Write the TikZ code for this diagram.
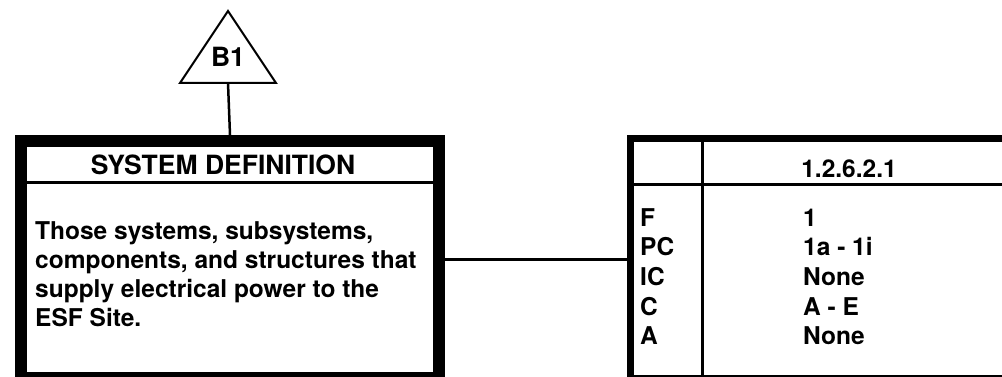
\documentclass[tikz,border=0pt]{standalone}
\usepackage{fontspec}
\setmainfont{TeX Gyre Heros}
\usetikzlibrary{positioning}

\tikzset{
  heavy/.style={line width=12pt},
  txt/.style={inner sep=0pt, font=\fontsize{24.5}{29}\selectfont\bfseries},
  big/.style={inner sep=0pt, font=\fontsize{26.5}{30}\selectfont\bfseries},
}

\begin{document}
\begin{tikzpicture}[x=1pt,y=-1pt]
\useasboundingbox (0,0) rectangle (1002,377);
% tag triangle
\coordinate (apex) at (228,11);
\coordinate (bl) at (180,83);
\coordinate (br) at (276,83);
\coordinate (tagfoot) at (228,83);
\draw[line width=2pt, line join=miter] (apex) -- (br) -- (bl) -- cycle;
\node[big] (tag) at (228,57) {B1};
% system definition box
\node[draw, heavy, inner sep=0pt, minimum width=418pt, minimum height=237pt, anchor=north west] (sysdef) at (15,135) {};
\draw[line width=2.5pt] (tagfoot) -- (sysdef.north);
\draw[line width=3pt] ([xshift=6pt,yshift=-48pt]sysdef.north west) coordinate (hl) -- ([xshift=-6pt,yshift=-48pt]sysdef.north east) coordinate (hr);
\node[big, anchor=base] (head) at (223,175) {SYSTEM DEFINITION};
\node[txt, anchor=north west, align=left] (body) at (35,221) {Those systems, subsystems,\\components, and structures that\\supply electrical power to the\\ESF Site.};
% reference table
\node[draw, line width=2pt, inner sep=0pt, minimum width=382pt, minimum height=239pt, anchor=north west] (ref) at (628,136) {};
\draw[line width=7pt] ([xshift=2.5pt]ref.south west) -- ([xshift=2.5pt,yshift=-2.5pt]ref.north west) -- ([yshift=-2.5pt]ref.north east);
\draw[line width=3pt] (702,136) coordinate (colsep) -- (colsep |- ref.south);
\draw[line width=3pt] (ref.west |- 0,185) -- (ref.east |- 0,185);
\node[txt, anchor=base] (num) at (849,178) {1.2.6.2.1};
\foreach \lab/\val [count=\i] in {F/1, PC/1a - 1i, IC/None, C/A - E, A/None}{
  \node[txt, anchor=base west] (lab\i) at (640,{226+(\i-1)*29.7}) {\lab};
  \node[txt, anchor=base west] (val\i) at (803,{226+(\i-1)*29.7}) {\val};
}
% link
\draw[line width=2.5pt] (sysdef.east) -- (sysdef.east -| ref.west);
\end{tikzpicture}
\end{document}
